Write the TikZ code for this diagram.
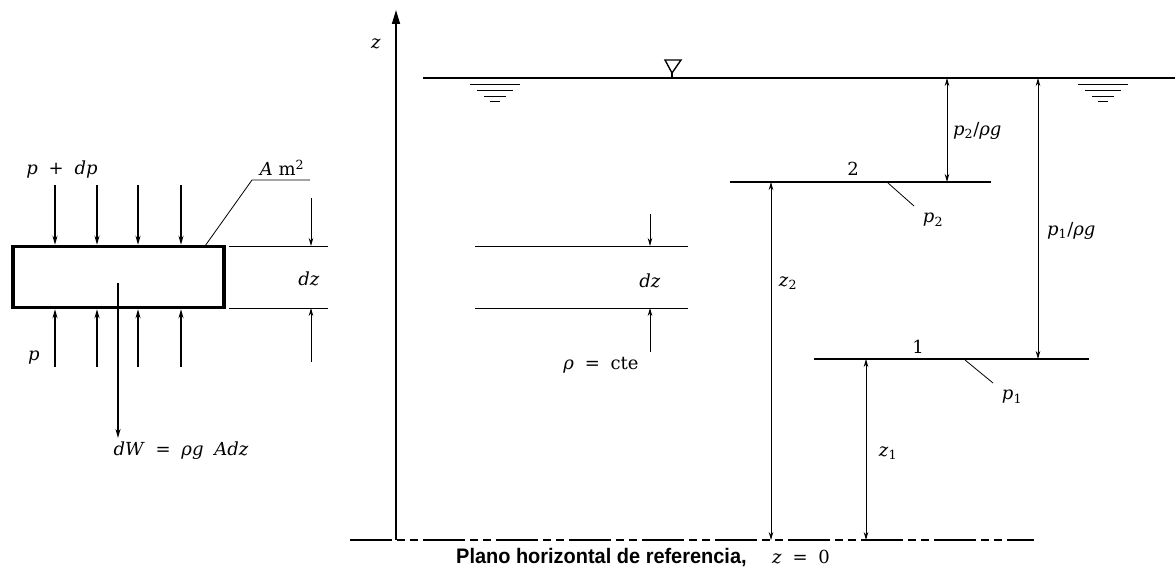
\documentclass[tikz,border=0pt]{standalone}
\usepackage{fontspec}
\setmainfont{DejaVu Serif}
\newfontfamily\labelfont[FakeStretch=0.95]{Liberation Sans}
\usetikzlibrary{arrows.meta}
\newcommand\vi[1]{\textit{#1}}
\newcommand\gap{\hspace{0.6em}}
\begin{document}
\begin{tikzpicture}[x=1pt,y=-1pt,
  heavy/.style={line width=1.9pt},
  light/.style={line width=0.8pt},
  dim/.style={line width=0.8pt,-{Stealth[length=8pt,width=4.5pt]}},
  force/.style={line width=1.4pt,-{Stealth[length=9pt,width=5pt]}},
  lbl/.style={font=\fontsize{18}{22}\selectfont, inner sep=0pt},
]
\useasboundingbox (0,0) rectangle (1175,569);

% ---------- left element ----------
\node[draw, line width=3.5pt, minimum width=211pt, minimum height=61pt, inner sep=0pt] (box) at (118.5,277) {};
\foreach \i/\x in {1/55,2/97,3/138,4/181}{
  \coordinate (t\i) at (\x,185);
  \coordinate (b\i) at (\x,367);
  \draw[force] (t\i) -- (t\i |- box.north);
  \draw[force] (b\i) -- (b\i |- box.south);
}
\node[lbl] (ptop) at (62,170) {\vi{p}\gap+\gap\vi{dp}};
\node[lbl] (pbot) at (34,358) {\vi{p}};
\node[lbl] (Am) at (282,168) {\vi{A} m\textsuperscript{2}};
\coordinate (ap) at (205,246);
\coordinate (ak) at (252,180);
\coordinate (ae) at (310,180);
\draw[light] (ap) -- (ak) -- (ae);

% dz dimension (left)
\coordinate (dl1) at (229,246);
\coordinate (dl1e) at (328,246);
\coordinate (dl2) at (229,308);
\coordinate (dl2e) at (328,308);
\draw[light] (dl1) -- (dl1e);
\draw[light] (dl2) -- (dl2e);
\coordinate (da1) at (311,198);
\coordinate (da2) at (311,362);
\draw[dim] (da1) -- (da1 |- dl1);
\draw[dim] (da2) -- (da2 |- dl2);
\node[lbl] (dzl) at (309,279) {\vi{dz}};

% weight
\coordinate (wc) at (118,283);
\coordinate (we) at (118,438);
\draw[force] (wc) -- (we);
\node[lbl] (wl) at (181,451) {\vi{dW}\gap=\gap\vi{ρg}\gap\vi{Adz}};

% ---------- right part ----------
\coordinate (zb) at (396,540);
\coordinate (zt) at (396,10);
\draw[line width=1.6pt,-{Triangle[length=14pt,width=8pt]}] (zb) -- (zt);
\node[lbl] (zl) at (376,44) {\vi{z}};

% free surface
\coordinate (fs1) at (423,78);
\coordinate (fs2) at (1175,78);
\draw[heavy] (fs1) -- (fs2);
\coordinate (nab) at (672,73);
\draw[line width=1.4pt] (nab) -- ++(0,5);
\draw[line width=1.4pt] (nab) -- (665,60) -- (681,60) -- cycle;
\foreach \cx in {495,1103}{
  \draw[light] (\cx-25,84) -- (\cx+25,84);
  \draw[light] (\cx-18,90) -- (\cx+18,90);
  \draw[light] (\cx-11,96) -- (\cx+11,96);
  \draw[light] (\cx-5,101) -- (\cx+5,101);
}

% level 2
\coordinate (l2a) at (730,182);
\coordinate (l2b) at (991,182);
\draw[heavy] (l2a) -- (l2b);
\node[lbl] (n2) at (853,169) {2};
\coordinate (p2s) at (888,183);
\coordinate (p2e) at (914,206);
\draw[light] (p2s) -- (p2e);
\node[lbl] (p2l) at (933,220) {\vi{p}\textsubscript{2}};

% level 1
\coordinate (l1a) at (814,359);
\coordinate (l1b) at (1089,359);
\draw[heavy] (l1a) -- (l1b);
\node[lbl] (n1) at (918,347) {1};
\coordinate (p1s) at (965,360);
\coordinate (p1e) at (993,383);
\draw[light] (p1s) -- (p1e);
\node[lbl] (p1l) at (1012,397) {\vi{p}\textsubscript{1}};

% pressure heads
\coordinate (h2) at (947,130);
\draw[dim] (h2) -- (h2 |- fs1);
\draw[dim] (h2) -- (h2 |- l2a);
\node[lbl, anchor=west] (h2l) at (953,131) {\vi{p}\textsubscript{2}/\vi{ρg}};
\coordinate (h1) at (1038,230);
\draw[dim] (h1) -- (h1 |- fs1);
\draw[dim] (h1) -- (h1 |- l1a);
\node[lbl, anchor=west] (h1l) at (1047,231) {\vi{p}\textsubscript{1}/\vi{ρg}};

% reference plane
\coordinate (r1) at (350,540);
\coordinate (r2) at (1034,540);
\draw[heavy, dash pattern=on 42pt off 5pt on 8pt off 5pt on 8pt off 5pt] (r1) -- (r2);
\node[inner sep=0pt, anchor=west] (rl) at (456,558) {\labelfont\bfseries\fontsize{21}{22}\selectfont Plano horizontal de referencia,};
\node[lbl, anchor=west] (rz) at (772,557) {\vi{z}\gap=\gap0};

% elevations
\coordinate (z2m) at (771,360);
\draw[dim] (z2m) -- (z2m |- l2a);
\draw[dim] (z2m) -- (z2m |- r1);
\node[lbl] (z2l) at (788,283) {\vi{z}\textsubscript{2}};
\coordinate (z1m) at (866,450);
\draw[dim] (z1m) -- (z1m |- l1a);
\draw[dim] (z1m) -- (z1m |- r1);
\node[lbl] (z1l) at (888,453) {\vi{z}\textsubscript{1}};

% middle dz
\coordinate (m1a) at (475,246);
\coordinate (m1b) at (688,246);
\coordinate (m2a) at (475,308);
\coordinate (m2b) at (688,308);
\draw[light] (m1a) -- (m1b);
\draw[light] (m2a) -- (m2b);
\coordinate (ma1) at (650,214);
\coordinate (ma2) at (650,352);
\draw[dim] (ma1) -- (ma1 |- m1a);
\draw[dim] (ma2) -- (ma2 |- m2a);
\node[lbl] (mdz) at (650,281) {\vi{dz}};
\node[lbl] (rho) at (601,365) {\vi{ρ}\gap=\gap cte};
\end{tikzpicture}
\end{document}
